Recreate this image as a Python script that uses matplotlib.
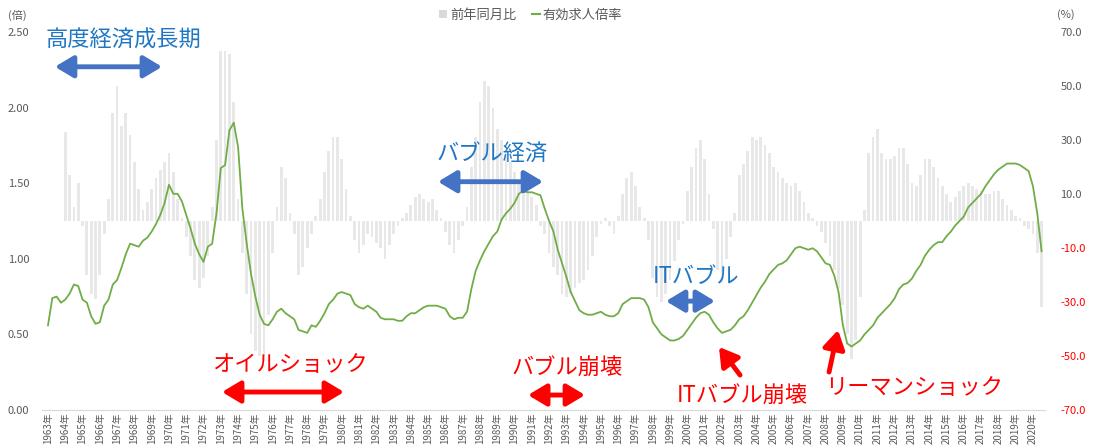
import numpy as np
import matplotlib
matplotlib.use("Agg")
import matplotlib.pyplot as plt
from matplotlib.patches import Patch
from matplotlib.lines import Line2D

plt.rcParams['font.family'] = ['Noto Sans CJK JP', 'DejaVu Sans']

start_year = 1963
years = list(range(1963, 2021))

# 有効求人倍率, quarterly (Jan / Apr / Jul / Oct)
ratio = [
    0.56, 0.74, 0.75, 0.71,  0.73, 0.77, 0.83, 0.82,  0.73, 0.71, 0.62, 0.57,  # 1963-65
    0.58, 0.69, 0.73, 0.83,  0.86, 0.94, 1.03, 1.10,  1.09, 1.08, 1.12, 1.14,  # 1966-68
    1.18, 1.23, 1.29, 1.37,  1.49, 1.43, 1.43, 1.38,  1.29, 1.20, 1.10, 1.03,  # 1969-71
    0.98, 1.08, 1.10, 1.30,  1.60, 1.62, 1.85, 1.90,  1.74, 1.33, 1.10, 0.90,  # 1972-74
    0.75, 0.63, 0.57, 0.56,  0.60, 0.65, 0.67, 0.64,  0.62, 0.60, 0.53, 0.52,  # 1975-77
    0.51, 0.56, 0.55, 0.59,  0.64, 0.70, 0.73, 0.77,  0.78, 0.77, 0.76, 0.70,  # 1978-80
    0.68, 0.67, 0.69, 0.67,  0.65, 0.61, 0.60, 0.60,  0.60, 0.59, 0.59, 0.62,  # 1981-83
    0.64, 0.64, 0.66, 0.68,  0.69, 0.69, 0.69, 0.68,  0.67, 0.62, 0.60, 0.61,  # 1984-86
    0.61, 0.65, 0.80, 0.92,  0.99, 1.05, 1.10, 1.15,  1.18, 1.26, 1.30, 1.33,  # 1987-89
    1.37, 1.43, 1.45, 1.44,  1.44, 1.43, 1.42, 1.33,  1.25, 1.18, 1.06, 0.97,  # 1990-92
    0.88, 0.78, 0.72, 0.66,  0.64, 0.63, 0.63, 0.64,  0.65, 0.63, 0.62, 0.62,  # 1993-95
    0.64, 0.70, 0.72, 0.74,  0.74, 0.74, 0.73, 0.68,  0.58, 0.54, 0.50, 0.48,  # 1996-98
    0.46, 0.46, 0.47, 0.49,  0.53, 0.57, 0.61, 0.64,  0.65, 0.63, 0.58, 0.54,  # 1999-2001
    0.51, 0.52, 0.53, 0.56,  0.60, 0.62, 0.66, 0.71,  0.76, 0.81, 0.85, 0.90,  # 2002-04
    0.93, 0.96, 0.97, 0.99,  1.03, 1.07, 1.08, 1.07,  1.06, 1.07, 1.05, 1.01,  # 2005-07
    0.97, 0.96, 0.89, 0.78,  0.56, 0.44, 0.42, 0.44,  0.46, 0.50, 0.53, 0.56,  # 2008-10
    0.61, 0.64, 0.67, 0.70,  0.74, 0.80, 0.83, 0.84,  0.87, 0.92, 0.96, 1.02,  # 2011-13
    1.06, 1.09, 1.11, 1.11,  1.15, 1.18, 1.22, 1.25,  1.28, 1.34, 1.37, 1.40,  # 2014-16
    1.43, 1.48, 1.52, 1.56,  1.59, 1.61, 1.63, 1.63,  1.63, 1.62, 1.60, 1.58,  # 2017-19
    1.48, 1.30, 1.05,                                                           # 2020
]

# 前年同月比 (%), same quarters
yoy = [
    0, 0, 0, 0,  33, 17, 5, 14,  -2, -20, -27, -29,          # 1963-65
    -20, -5, 8, 40,  50, 35, 40, 32,  22, 12, 4, 7,          # 1966-68
    12, 16, 19, 22,  25, 18, 8, 1,  -6, -13, -22, -25,       # 1969-71
    -21, -13, 5, 30,  63, 63, 62, 44,  8, -12, -27, -42,     # 1972-74
    -48, -50, -52, -35,  -12, 5, 20, 16,  3, -5, -20, -17,   # 1975-77
    -10, -5, 2, 8,  18, 26, 31, 31,  23, 12, 2, -7,          # 1978-80
    -12, -9, -5, -6,  -8, -10, -14, -9,  -5, -2, 1, 3,       # 1981-83
    6, 9, 10, 8,  7, 8, 4, 1,  -4, -9, -12, -7,              # 1984-86
    -2, 5, 20, 31,  44, 52, 50, 42,  34, 30, 26, 22,         # 1987-89
    18, 15, 13, 11,  9, 6, -2, -5,  -12, -17, -20, -27,      # 1990-92
    -28, -27, -25, -23,  -22, -18, -13, -6,  -1, 1, -2, -5,  # 1993-95
    2, 10, 16, 18,  13, 5, 1, -7,  -21, -28, -30, -27,       # 1996-98
    -22, -15, -7, -1,  11, 20, 27, 30,  23, 10, -3, -18,     # 1999-2001
    -23, -14, -6, 3,  17, 21, 26, 31,  30, 31, 28, 25,       # 2002-04
    20, 18, 16, 14,  13, 14, 11, 7,  3, 1, -2, -4,           # 2005-07
    -8, -13, -18, -25,  -31, -42, -51, -44,  -28, 4, 25, 31, # 2008-10
    34, 25, 23, 23,  24, 27, 27, 21,  14, 13, 17, 23,        # 2011-13
    23, 20, 16, 13,  10, 7, 9, 11,  13, 14, 13, 12,          # 2014-16
    11, 10, 10, 11,  11, 8, 6, 4,  2, 1, -2, -3,             # 2017-19
    -5, -12, -32,                                            # 2020
]

t = start_year + 0.25 * np.arange(len(ratio))

fig = plt.figure(figsize=(10.94, 4.48), dpi=100)
ax = fig.add_axes([42 / 1094, 38 / 448, 1003 / 1094, 378 / 448])
ax2 = ax.twinx()

# bars on the right axis, line on the left axis kept in front
ax2.bar(t, yoy, width=0.16, color='#e8e8e8', edgecolor='none')
ax.plot(t, ratio, color='#70ad47', lw=1.3)
ax.set_zorder(ax2.get_zorder() + 1)
ax.patch.set_visible(False)

ax.set_xlim(1962.653, 2020.697)
ax.set_ylim(0, 2.5)
ax2.set_ylim(-70, 70)

ax.set_yticks(np.arange(0, 2.51, 0.5))
ax.set_yticklabels(['{:.2f}'.format(v) for v in np.arange(0, 2.51, 0.5)])
ax2.set_yticks(np.arange(-70, 71, 20))
ax2.set_yticklabels(['{:.1f}'.format(v) for v in np.arange(-70, 71, 20)])
for lab, v in zip(ax2.get_yticklabels(), np.arange(-70, 71, 20)):
    lab.set_color('#ff0000' if v < 0 else '#595959')

ax.set_xticks(years)
ax.set_xticklabels(['{}年'.format(y) for y in years], rotation=90, fontsize=7, color='#595959')
ax.tick_params(axis='x', length=0, pad=2)
ax.tick_params(axis='y', length=0, labelsize=8, labelcolor='#595959', pad=9)
ax2.tick_params(axis='y', length=0, labelsize=8, pad=11)

for a in (ax, ax2):
    for s in ('left', 'right', 'top'):
        a.spines[s].set_visible(False)
ax2.spines['bottom'].set_visible(False)
ax.spines['bottom'].set_color('#d9d9d9')

fig.text(8 / 1094, 1 - 15 / 448, '(倍)', fontsize=8, color='#595959', va='center')
fig.text(1057 / 1094, 1 - 15 / 448, '(%)', fontsize=8, color='#595959', va='center')

handles = [Patch(facecolor='#d9d9d9', edgecolor='none'),
           Line2D([0], [0], color='#70ad47', lw=1.5)]
fig.legend(handles, ['前年同月比', '有効求人倍率'], loc='center', bbox_to_anchor=(0.485, 1 - 15 / 448),
           ncol=2, frameon=False, fontsize=9.5, labelcolor='#595959',
           handlelength=0.6, handleheight=0.6, handletextpad=0.2, columnspacing=1.2)

blue_txt = '#1f77c4'
blue_arr = '#4472c4'
red = '#ff0000'

# periods of expansion
ax.text(1962.83, 2.447, '高度経済成長期', fontsize=16, color=blue_txt, va='center')
ax.text(1985.5, 1.693, 'バブル経済', fontsize=16, color=blue_txt, va='center')
ax.text(1998.0, 0.88, 'ITバブル', fontsize=16, color=blue_txt, va='center')

# downturns
ax.text(1972.5, 0.298, 'オイルショック', fontsize=16, color=red, va='center')
ax.text(1989.83, 0.278, 'バブル崩壊', fontsize=16, color=red, va='center')
ax.text(1999.4, 0.093, 'ITバブル崩壊', fontsize=16, color=red, va='center')
ax.text(2007.95, 0.152, 'リーマンショック', fontsize=16, color=red, va='center')

def span_arrow(x0, x1, y, color):
    ax.annotate('', xy=(x1, y), xytext=(x0, y),
                arrowprops=dict(arrowstyle='<|-|>,head_length=0.5,head_width=0.3',
                                color=color, lw=3.5, mutation_scale=22,
                                shrinkA=0, shrinkB=0))

def point_arrow(x0, y0, x1, y1, color):
    ax.annotate('', xy=(x1, y1), xytext=(x0, y0),
                arrowprops=dict(arrowstyle='-|>,head_length=0.5,head_width=0.3',
                                color=color, lw=3.5, mutation_scale=22,
                                shrinkA=0, shrinkB=0))

span_arrow(1963.4, 1969.6, 2.27, blue_arr)
span_arrow(1985.57, 1991.65, 1.51, blue_arr)
span_arrow(1998.76, 2001.6, 0.72, blue_arr)
span_arrow(1973.07, 1980.13, 0.119, red)
span_arrow(1990.78, 1994.08, 0.099, red)
point_arrow(2003.05, 0.231, 2001.83, 0.417, red)
point_arrow(2008.2, 0.251, 2008.72, 0.529, red)

fig.savefig('out.png', dpi=100)
